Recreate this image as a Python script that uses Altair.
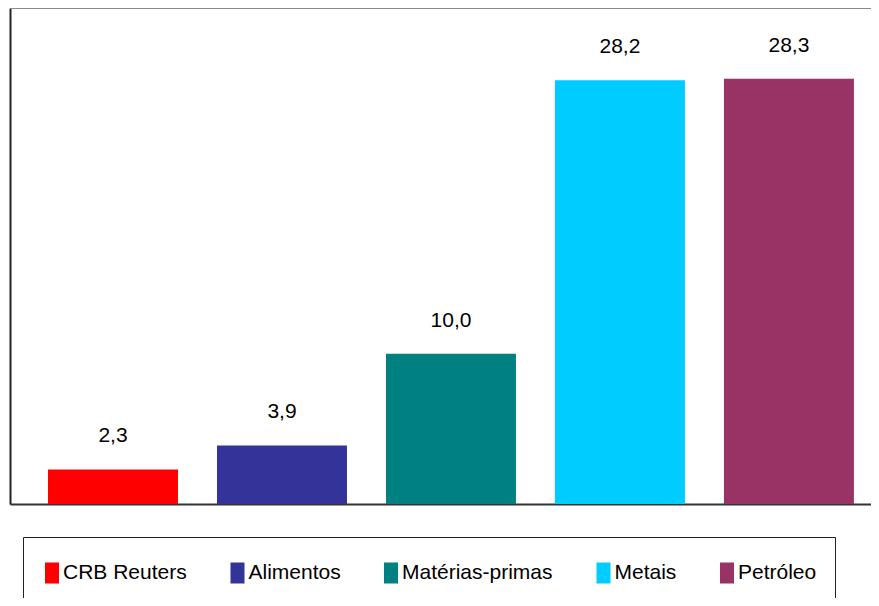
import altair as alt
import pandas as pd

categories = ["CRB Reuters", "Alimentos", "Matérias-primas", "Metais", "Petróleo"]
values = [2.3, 3.9, 10.0, 28.2, 28.3]
labels = ["2,3", "3,9", "10,0", "28,2", "28,3"]
colors = ["#FF0000", "#333399", "#008080", "#00CCFF", "#993366"]

df = pd.DataFrame({"cat": categories, "val": values, "lab": labels})

FONT = "Liberation Sans, Arial"
W, H = 861, 496

x = alt.X("cat:N", sort=categories,
          scale=alt.Scale(paddingInner=0.2308, paddingOuter=0.163, align=0.69),
          axis=alt.Axis(labels=False, ticks=False, title=None, domainColor="#333333",
                        domainWidth=2, grid=False))
y = alt.Y("val:Q", scale=alt.Scale(domain=[0, 33.0], nice=False, zero=True),
          axis=alt.Axis(labels=False, ticks=False, title=None, domainColor="#222222",
                        domainWidth=2, grid=False))

bars = alt.Chart(df).mark_bar().encode(
    x=x, y=y,
    color=alt.Color("cat:N", sort=categories,
                    scale=alt.Scale(domain=categories, range=colors),
                    legend=alt.Legend(
                        orient="none", legendX=13, legendY=529, direction="horizontal",
                        title=" ", titleFontSize=7, titlePadding=0,
                        symbolType="M-0.667,-1H0.667V1H-0.667Z", symbolSize=441,
                        symbolStrokeWidth=0, symbolOpacity=1,
                        labelFont=FONT, labelFontSize=21, labelColor="#000000",
                        labelOffset=0.5, columnPadding=39.5, padding=18.5,
                        strokeColor="#222222", labelLimit=300)),
)

text = alt.Chart(df).mark_text(font=FONT, fontSize=21, color="#000000",
                               baseline="alphabetic", dy=-27).encode(
    x=alt.X("cat:N", sort=categories), y="val:Q", text="lab:N")

top = alt.Chart(df).mark_rule(color="#8a8a8a", strokeWidth=2).encode(
    y=alt.value(0), x=alt.value(0), x2=alt.value(W))

chart = alt.layer(bars, text, top).properties(
    width=W, height=H,
    autosize=alt.AutoSizeParams(type="none"),
    padding={"left": 2, "top": 0, "right": 0, "bottom": 94},
).configure_view(stroke=None).configure_legend(strokeWidth=2).configure(background="white")

chart.save("out.html", embed_options={"renderer": "svg", "actions": False})
